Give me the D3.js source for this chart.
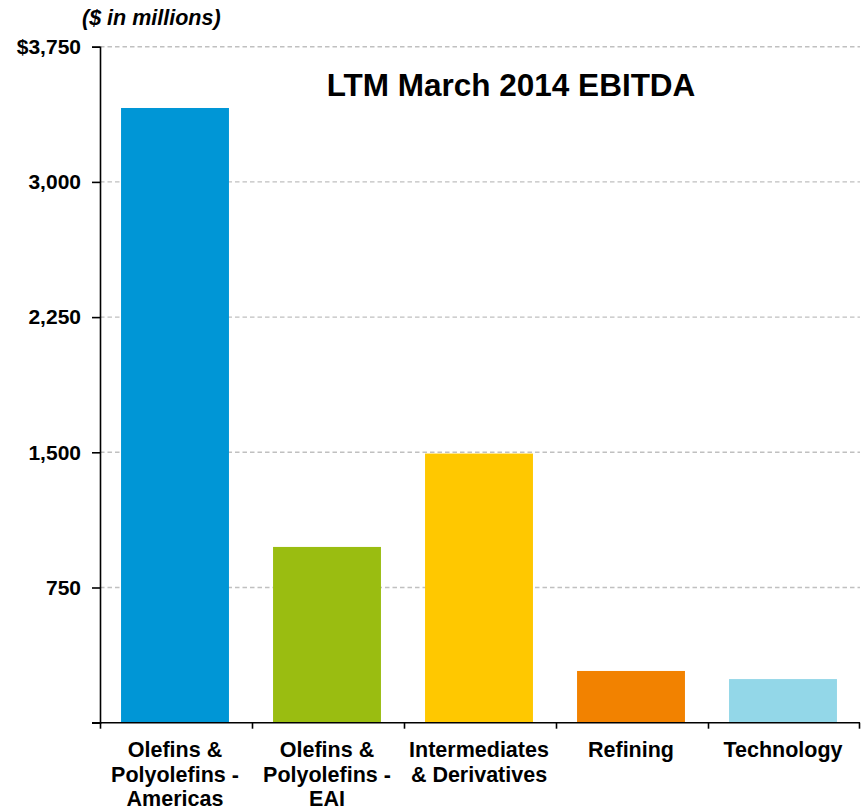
<!DOCTYPE html>
<html>
<head>
<meta charset="utf-8">
<script src="https://cdn.jsdelivr.net/npm/d3@7"></script>
<style>
  body { margin: 0; background: #fff; }
  text { font-family: "Liberation Sans", Arial, sans-serif; font-weight: bold; fill: #000; }
</style>
</head>
<body>
<div id="chart"></div>
<script>
// data
var segments = [
  ["Olefins &", "Polyolefins -", "Americas"],
  ["Olefins &", "Polyolefins -", "EAI"],
  ["Intermediates", "& Derivatives"],
  ["Refining"],
  ["Technology"]
];
var ebitda = [3410, 975, 1493, 287, 242];
var barColors = ["#0096d6", "#9abd11", "#ffc800", "#f28200", "#93d7e8"];
var yTicks = [0, 750, 1500, 2250, 3000, 3750];

// layout
var svgWidth = 866, svgHeight = 812;
var margin = { top: 46.7, right: 6, bottom: 89.3, left: 100 };

var svg = d3.select("#chart").append("svg")
  .attr("width", svgWidth)
  .attr("height", svgHeight);

var x = d3.scaleBand()
  .domain(d3.range(segments.length))
  .range([margin.left, svgWidth - margin.right])
  .padding(0);

var y = d3.scaleLinear()
  .domain([0, 3750])
  .range([svgHeight - margin.bottom, margin.top]);

// gridlines
svg.append("g")
  .selectAll("line")
  .data(yTicks.slice(1))
  .join("line")
  .attr("x1", margin.left)
  .attr("x2", svgWidth - margin.right)
  .attr("y1", d => y(d))
  .attr("y2", d => y(d))
  .attr("stroke", "#c0c0c0")
  .attr("stroke-width", 1.4)
  .attr("stroke-dasharray", "4.5,3");

// bars
var barW = x.bandwidth() * 0.71;
svg.append("g")
  .selectAll("rect")
  .data(ebitda)
  .join("rect")
  .attr("x", (d, i) => x(i) + (x.bandwidth() - barW) / 2 - 1)
  .attr("width", barW)
  .attr("y", d => y(d))
  .attr("height", d => y(0) - y(d))
  .attr("fill", (d, i) => barColors[i]);

// y axis
var yAxis = svg.append("g")
  .attr("transform", `translate(${margin.left},0)`)
  .call(d3.axisLeft(y).tickValues(yTicks).tickSize(8).tickPadding(11)
    .tickFormat(d => d === 0 ? "" : (d === 3750 ? "$" : "") + d3.format(",")(d)));
yAxis.select(".domain").attr("stroke", "#000").attr("stroke-width", 1.6);
yAxis.selectAll(".tick line").attr("stroke", "#000").attr("stroke-width", 1.6);
yAxis.selectAll(".tick text")
  .attr("x", -19)
  .attr("font-size", 21)
  .attr("font-family", "Liberation Sans, Arial, sans-serif")
  .attr("font-weight", "bold")
  .attr("fill", "#000");

// x axis
var xAxis = svg.append("g")
  .attr("transform", `translate(0,${y(0)})`);
xAxis.append("line")
  .attr("x1", margin.left - 8)
  .attr("x2", svgWidth - margin.right)
  .attr("stroke", "#000")
  .attr("stroke-width", 1.6);
xAxis.selectAll(".xtick")
  .data(d3.range(segments.length + 1))
  .join("line")
  .attr("class", "xtick")
  .attr("x1", i => i < segments.length ? x(i) + 0.5 : x(i - 1) + x.bandwidth() - 0.5)
  .attr("x2", i => i < segments.length ? x(i) + 0.5 : x(i - 1) + x.bandwidth() - 0.5)
  .attr("y1", 0)
  .attr("y2", 6)
  .attr("stroke", "#000")
  .attr("stroke-width", 1.6);

// category labels
var labels = svg.append("g")
  .selectAll("text")
  .data(segments)
  .join("text")
  .attr("text-anchor", "middle")
  .attr("font-size", 21.5)
  .attr("x", (d, i) => x(i) + x.bandwidth() / 2 - 1)
  .attr("y", 757);
labels.selectAll("tspan")
  .data(d => d)
  .join("tspan")
  .attr("x", function () { return d3.select(this.parentNode).attr("x"); })
  .attr("dy", (d, i) => i === 0 ? 0 : 24.5)
  .text(d => d);

// title and unit note
svg.append("text")
  .attr("x", 511)
  .attr("y", 96)
  .attr("text-anchor", "middle")
  .attr("font-size", 31.5)
  .text("LTM March 2014 EBITDA");

svg.append("text")
  .attr("x", 82)
  .attr("y", 25)
  .attr("font-size", 21.5)
  .attr("font-style", "italic")
  .text("($ in millions)");
</script>
</body>
</html>
